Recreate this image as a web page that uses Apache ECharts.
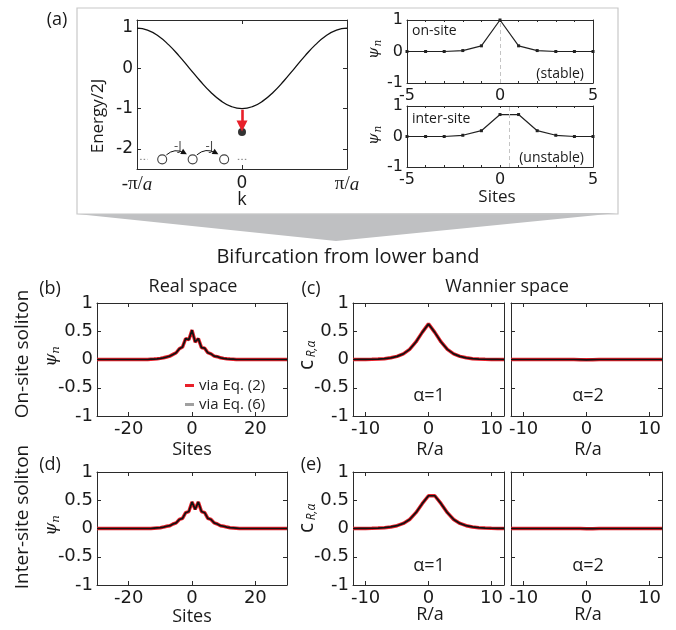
<!DOCTYPE html>
<html>
<head>
<meta charset="utf-8">
<script src="https://cdn.jsdelivr.net/npm/echarts@6/dist/echarts.min.js"></script>
<style>
  html, body { margin: 0; padding: 0; background: #fff; }
  #chart { width: 676px; height: 630px; }
</style>
</head>
<body>
<div id="chart"></div>
<script>
/* ---------- data ---------- */

// (a) band, k in units of pi/a
var bandK = [-1, -0.9, -0.8, -0.7, -0.6, -0.5, -0.4, -0.3, -0.2, -0.1, 0, 0.1, 0.2, 0.3, 0.4, 0.5, 0.6, 0.7, 0.8, 0.9, 1];
var bandE = [1, 0.951, 0.809, 0.588, 0.309, 0, -0.309, -0.588, -0.809, -0.951, -1, -0.951, -0.809, -0.588, -0.309, 0, 0.309, 0.588, 0.809, 0.951, 1];
var solitonE = -1.58;
var arrowE = [-1.03, -1.43];
var chainK = [-0.76, -0.47, -0.17];
var chainE = -2.26;
var hopFrom = [[-0.72, -2.15], [-0.43, -2.15]];
var hopTo = [[-0.55, -2.1], [-0.25, -2.1]];
var hopLabelK = [-0.61, -0.31];
var hopLabelE = -1.93;

// (a) insets
var sitesA = [-5, -4, -3, -2, -1, 0, 1, 2, 3, 4, 5];
var onsiteA = [0, 0, 0, 0.03, 0.18, 1, 0.18, 0.03, 0, 0, 0];
var intersiteA = [0, 0, 0, 0.04, 0.19, 0.72, 0.72, 0.19, 0.04, 0, 0];

// (b),(d) real space, sites -30..30
var sitesReal = [];
for (var s = -30; s <= 30; s++) sitesReal.push(s);
var onsiteReal = [
  0, 0, 0, 0, 0, 0, 0, 0, 0, 0, 0, 0, 0, 0, 0, 0, 0,
  0.005, 0.008, 0.012, 0.02, 0.03, 0.045, 0.06, 0.09, 0.12, 0.19, 0.22, 0.37, 0.35,
  0.52,
  0.31, 0.37, 0.21, 0.2, 0.12, 0.1, 0.06, 0.05, 0.03, 0.02, 0.012, 0.008, 0.005,
  0, 0, 0, 0, 0, 0, 0, 0, 0, 0, 0, 0, 0, 0, 0, 0, 0
];
var intersiteReal = [
  0, 0, 0, 0, 0, 0, 0, 0, 0, 0, 0, 0, 0, 0, 0, 0, 0, 0,
  0.005, 0.01, 0.015, 0.025, 0.04, 0.05, 0.08, 0.1, 0.16, 0.18, 0.28, 0.3,
  0.47, 0.34, 0.47,
  0.3, 0.28, 0.18, 0.16, 0.1, 0.08, 0.05, 0.04, 0.025, 0.015, 0.01, 0.005,
  0, 0, 0, 0, 0, 0, 0, 0, 0, 0, 0, 0, 0, 0, 0, 0
];

// (c),(e) Wannier space, R -12..12
var wannR = [];
for (var r = -12; r <= 12; r++) wannR.push(r);
var onsiteW1 = [0, 0.001, 0.002, 0.004, 0.008, 0.015, 0.03, 0.055, 0.1, 0.18, 0.31, 0.48, 0.63, 0.48, 0.31, 0.18, 0.1, 0.055, 0.03, 0.015, 0.008, 0.004, 0.002, 0.001, 0];
var onsiteW2 = [0, 0, 0, 0, 0, 0, 0, 0, 0, 0, 0, -0.003, -0.006, -0.003, 0, 0, 0, 0, 0, 0, 0, 0, 0, 0, 0];
var intersiteW1 = [0, 0.001, 0.002, 0.004, 0.007, 0.014, 0.028, 0.05, 0.09, 0.16, 0.28, 0.44, 0.58, 0.58, 0.44, 0.28, 0.16, 0.09, 0.05, 0.028, 0.014, 0.007, 0.004, 0.002, 0.001];
var intersiteW2 = [0, 0, 0, 0, 0, 0, 0, 0, 0, 0, 0, 0, -0.003, -0.003, 0, 0, 0, 0, 0, 0, 0, 0, 0, 0, 0];

/* ---------- helpers ---------- */

var FONT = '"Open Sans", sans-serif';
var TICK = '"DejaVu Sans", sans-serif';
var AX = '#2b2b2b';
var RED = '#e8202a';

var grids = [], xAxes = [], yAxes = [], series = [], graphics = [];

function pairs(xs, ys) {
  return xs.map(function (x, i) { return [x, ys[i]]; });
}

function axisCfg(gi, pos, r, withLabel) {
  var label = { show: withLabel, customValues: r.labels, margin: r.margin || 4,
    fontFamily: TICK, fontSize: r.fontSize || 17, color: '#1a1a1a' };
  if (r.formatter) label.formatter = r.formatter;
  if (r.rich) label.rich = r.rich;
  return {
    type: 'value', gridIndex: gi, position: pos, min: r.min, max: r.max,
    axisLine: { show: true, onZero: false, lineStyle: { color: AX, width: 1 } },
    axisTick: { show: true, inside: true, length: r.tickLen || 4, customValues: r.ticks, lineStyle: { color: AX } },
    axisLabel: label,
    splitLine: { show: false }
  };
}

function addBox(rect, xr, yr) {
  var gi = grids.length;
  grids.push({ left: rect[0], top: rect[1], width: rect[2], height: rect[3] });
  var idx = { x: xAxes.length, y: yAxes.length };
  xAxes.push(axisCfg(gi, 'bottom', xr, true));
  xAxes.push(axisCfg(gi, 'top', xr, false));
  yAxes.push(axisCfg(gi, 'left', yr, true));
  yAxes.push(axisCfg(gi, 'right', yr, false));
  return idx;
}

function txt(t, x, y, size, opt) {
  opt = opt || {};
  graphics.push({
    type: 'text', x: x, y: y, rotation: opt.rot || 0, z: 10,
    style: { text: t, fill: '#1a1a1a', fontFamily: opt.font || FONT, fontSize: size,
      fontStyle: opt.italic ? 'italic' : 'normal',
      textAlign: opt.align || 'center', textVerticalAlign: 'middle' }
  });
}

function psiLabel(x, y, size) {
  graphics.push({
    type: 'group', x: x, y: y, rotation: Math.PI / 2, z: 10,
    children: [
      { type: 'text', x: -3, y: 0, style: { text: 'ψ', fill: '#1a1a1a', fontFamily: '"DejaVu Serif", serif', fontStyle: 'italic', fontSize: size, textAlign: 'center', textVerticalAlign: 'middle' } },
      { type: 'text', x: 7, y: 4, style: { text: 'n', fill: '#1a1a1a', fontFamily: '"DejaVu Serif", serif', fontStyle: 'italic', fontSize: size * 0.7, textAlign: 'center', textVerticalAlign: 'middle' } }
    ]
  });
}

function cLabel(x, y) {
  graphics.push({
    type: 'group', x: x, y: y, rotation: Math.PI / 2, z: 10,
    children: [
      { type: 'text', x: -8, y: 0, style: { text: 'c', fill: '#1a1a1a', fontFamily: FONT, fontSize: 21, textAlign: 'center', textVerticalAlign: 'middle' } },
      { type: 'text', x: 8, y: 5, style: { text: 'R,α', fill: '#1a1a1a', fontFamily: FONT, fontStyle: 'italic', fontSize: 12, textAlign: 'center', textVerticalAlign: 'middle' } }
    ]
  });
}

function pairSeries(ax, xs, ys) {
  series.push({ type: 'line', name: 'via Eq. (2)', xAxisIndex: ax.x, yAxisIndex: ax.y, data: pairs(xs, ys),
    showSymbol: false, color: RED, lineStyle: { color: RED, width: 3.5 }, z: 2 });
  series.push({ type: 'line', name: 'via Eq. (6)', xAxisIndex: ax.x, yAxisIndex: ax.y, data: pairs(xs, ys),
    showSymbol: false, color: '#111', lineStyle: { color: '#111', width: 1.7 }, z: 3 });
}

/* ---------- panel (a) ---------- */

var serifRich = {
  s: { fontFamily: '"Liberation Serif", serif', fontSize: 19, color: '#1a1a1a' },
  i: { fontFamily: '"Liberation Serif", serif', fontStyle: 'italic', fontSize: 19, color: '#1a1a1a' }
};
var axA = addBox([137, 20, 210, 149],
  { min: -1, max: 1, ticks: [-1, 0, 1], labels: [-1, 0, 1], margin: 6, rich: serifRich,
    formatter: function (v) { return v === 0 ? '0' : (v < 0 ? '{s|-π/}{i|a}' : '{s|π/}{i|a}'); } },
  { min: -2.5, max: 1.2, ticks: [-2, -1, 0, 1], labels: [-2, -1, 0, 1] });

series.push({ type: 'line', xAxisIndex: axA.x, yAxisIndex: axA.y, data: pairs(bandK, bandE), smooth: true,
  showSymbol: false, lineStyle: { color: '#111', width: 1.3 },
  markLine: { silent: true, symbol: ['none', 'triangle'], symbolSize: [11, 11], label: { show: false },
    lineStyle: { color: RED, width: 2.6, type: 'solid' },
    data: [[{ coord: [0, arrowE[0]] }, { coord: [0, arrowE[1]] }]] } });
series.push({ type: 'scatter', xAxisIndex: axA.x, yAxisIndex: axA.y, data: [[0, solitonE]],
  symbolSize: 8, itemStyle: { color: '#000' } });
series.push({ type: 'scatter', xAxisIndex: axA.x, yAxisIndex: axA.y,
  data: chainK.map(function (k) { return [k, chainE]; }),
  symbol: 'circle', symbolSize: 9, itemStyle: { color: '#fff', borderColor: '#111', borderWidth: 1.1 } });
series.push({ type: 'line', xAxisIndex: axA.x, yAxisIndex: axA.y, data: [[-0.97, chainE], [-0.9, chainE]],
  showSymbol: false, lineStyle: { color: '#777', width: 1, type: [1.5, 2] } });
series.push({ type: 'line', xAxisIndex: axA.x, yAxisIndex: axA.y, data: [[-0.04, chainE], [0.05, chainE]],
  showSymbol: false, lineStyle: { color: '#777', width: 1, type: [1.5, 2] } });
series.push({ type: 'lines', coordinateSystem: 'cartesian2d', xAxisIndex: axA.x, yAxisIndex: axA.y,
  polyline: false, symbol: ['none', 'triangle'], symbolSize: 6,
  lineStyle: { color: '#111', width: 1, curveness: 0.35, opacity: 1 },
  data: hopFrom.map(function (p, i) { return { coords: [p, hopTo[i]] }; }) });
series.push({ type: 'scatter', xAxisIndex: axA.x, yAxisIndex: axA.y,
  data: hopLabelK.map(function (k) { return [k, hopLabelE]; }), symbolSize: 0,
  label: { show: true, position: 'inside', formatter: '-J', fontFamily: FONT, fontSize: 13, color: '#1a1a1a' } });

var insetX = { min: -5, max: 5, ticks: sitesA, labels: [-5, 0, 5], tickLen: 2, margin: 5, fontSize: 16 };
var insetY = { min: -1, max: 1, ticks: [-1, 0, 1], labels: [-1, 0, 1], tickLen: 3, fontSize: 16 };
var axA1 = addBox([407, 20, 186, 63], insetX, insetY);
var axA2 = addBox([407, 106, 186, 61], insetX, insetY);
[[axA1, onsiteA, 0], [axA2, intersiteA, 0.5]].forEach(function (p) {
  series.push({ type: 'line', xAxisIndex: p[0].x, yAxisIndex: p[0].y, data: pairs(sitesA, p[1]),
    symbol: 'rect', symbolSize: 3, color: '#222', lineStyle: { color: '#222', width: 1.2 },
    markLine: { silent: true, symbol: 'none', label: { show: false },
      lineStyle: { color: '#c4c4c4', width: 1, type: [4, 3] }, data: [{ xAxis: p[2] }] } });
});

/* ---------- panels (b)-(e) ---------- */

var realX = { min: -30, max: 30, ticks: [-20, 0, 20], labels: [-20, 0, 20], margin: 4, fontSize: 18 };
var wannX = { min: -12, max: 12, ticks: [-10, 0, 10], labels: [-10, 0, 10], margin: 4, fontSize: 18 };
var solY = { min: -1, max: 1, ticks: [-1, -0.5, 0, 0.5, 1], labels: [-1, -0.5, 0, 0.5, 1], fontSize: 18 };
var solYnl = { min: -1, max: 1, ticks: [-1, -0.5, 0, 0.5, 1], labels: [], fontSize: 18 };

pairSeries(addBox([97, 303, 190, 113], realX, solY), sitesReal, onsiteReal);
pairSeries(addBox([353, 303, 151, 113], wannX, solY), wannR, onsiteW1);
pairSeries(addBox([511, 303, 151, 113], wannX, solYnl), wannR, onsiteW2);
pairSeries(addBox([97, 472, 190, 113], realX, solY), sitesReal, intersiteReal);
pairSeries(addBox([353, 472, 151, 113], wannX, solY), wannR, intersiteW1);
pairSeries(addBox([511, 472, 151, 113], wannX, solYnl), wannR, intersiteW2);

/* ---------- decorations & text ---------- */

graphics.push({ type: 'polygon', z: 0, shape: { points: [[77, 214], [618, 213], [336, 241]] }, style: { fill: '#bfc0c2' } });
graphics.push({ type: 'rect', z: 0, shape: { x: 77, y: 8, width: 541, height: 206 }, style: { fill: 'none', stroke: '#c8c8c8', lineWidth: 1.2 } });

txt('(a)', 57, 20, 18);
txt('Energy/2J', 98, 116, 17, { rot: Math.PI / 2 });
txt('k', 242, 200, 18);
txt('on-site', 412, 31, 14, { align: 'left' });
txt('(stable)', 584, 74, 14, { align: 'right' });
txt('inter-site', 412, 119, 14, { align: 'left' });
txt('(unstable)', 584, 158, 14, { align: 'right' });
txt('Sites', 497, 197, 17);
psiLabel(374, 50, 15);
psiLabel(374, 136, 15);

txt('Bifurcation from lower band', 348, 257, 20);

txt('(b)', 50, 289, 18);
txt('Real space', 193, 287, 18);
txt('(c)', 311, 289, 18);
txt('Wannier space', 507, 287, 18);
txt('On-site soliton', 23, 354, 19, { rot: Math.PI / 2 });
psiLabel(52, 357, 17);
cLabel(307, 357);
txt('Sites', 192, 450, 18);
txt('R/a', 430, 450, 18);
txt('R/a', 588, 450, 18);
txt('α=1', 429, 396, 18);
txt('α=2', 588, 396, 18);

txt('(d)', 50, 465, 18);
txt('(e)', 311, 465, 18);
txt('Inter-site soliton', 23, 517, 19, { rot: Math.PI / 2 });
psiLabel(52, 526, 17);
cLabel(307, 520);
txt('Sites', 192, 617, 18);
txt('R/a', 430, 615, 18);
txt('R/a', 588, 615, 18);
txt('α=1', 429, 566, 18);
txt('α=2', 588, 566, 18);

/* ---------- chart ---------- */

var chart = echarts.init(document.getElementById('chart'), null, { renderer: 'canvas' });
chart.setOption({
  animation: false,
  backgroundColor: '#fff',
  grid: grids,
  xAxis: xAxes,
  yAxis: yAxes,
  legend: {
    left: 180, top: 373, orient: 'vertical', icon: 'rect', itemWidth: 9, itemHeight: 3, itemGap: 4,
    selectedMode: false,
    textStyle: { fontFamily: FONT, fontSize: 15, color: '#222' },
    data: [{ name: 'via Eq. (2)' }, { name: 'via Eq. (6)', itemStyle: { color: '#a0a0a0' } }]
  },
  series: series,
  graphic: graphics
});
</script>
</body>
</html>
